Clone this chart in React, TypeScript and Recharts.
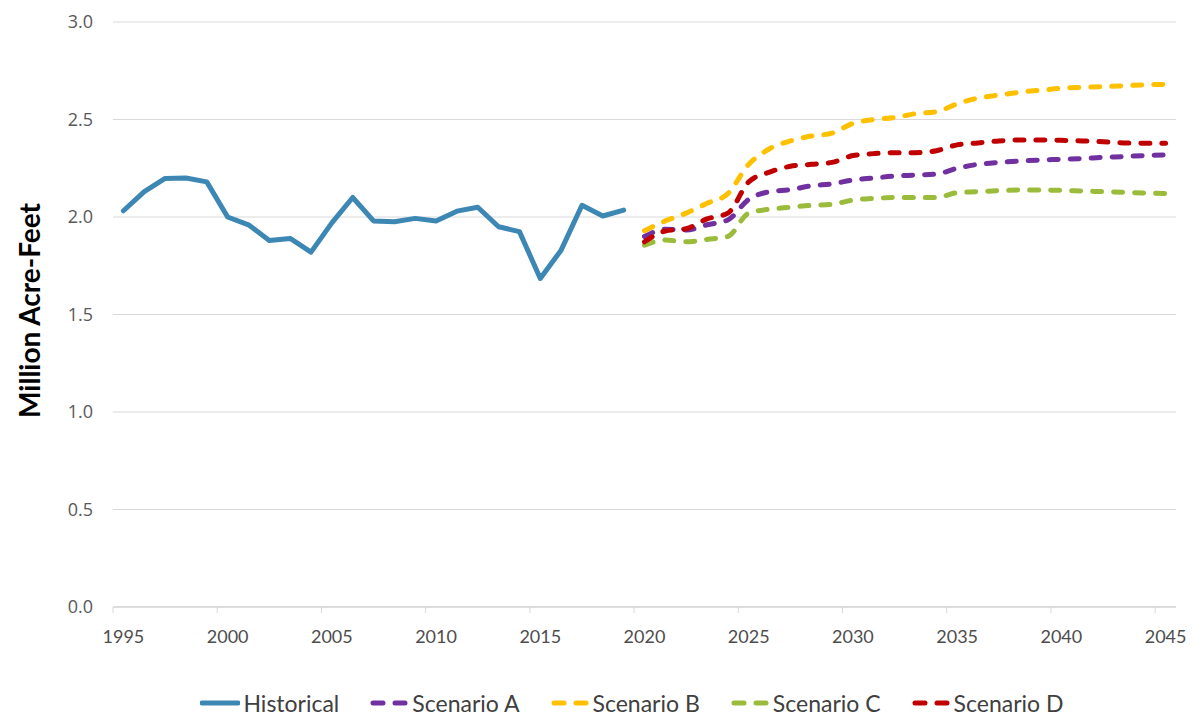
import React from 'react';
import { LineChart, Line, XAxis, YAxis, CartesianGrid, Legend } from 'recharts';

const histYears = [1995, 1996, 1997, 1998, 1999, 2000, 2001, 2002, 2003, 2004, 2005, 2006, 2007, 2008, 2009, 2010, 2011, 2012, 2013, 2014, 2015, 2016, 2017, 2018, 2019];
const historical = [2.032, 2.13, 2.198, 2.2, 2.18, 2.0, 1.96, 1.88, 1.89, 1.82, 1.97, 2.1, 1.98, 1.976, 1.993, 1.98, 2.03, 2.05, 1.95, 1.925, 1.685, 1.83, 2.06, 2.005, 2.035];

const projYears = [2020, 2021, 2022, 2023, 2024, 2025, 2026, 2027, 2028, 2029, 2030, 2031, 2032, 2033, 2034, 2035, 2036, 2037, 2038, 2039, 2040, 2041, 2042, 2043, 2044, 2045];
const scenarioA = [1.9, 1.937, 1.933, 1.96, 1.985, 2.09, 2.13, 2.14, 2.16, 2.17, 2.19, 2.2, 2.21, 2.215, 2.22, 2.25, 2.27, 2.28, 2.287, 2.292, 2.296, 2.3, 2.306, 2.31, 2.315, 2.318];
const scenarioB = [1.93, 1.98, 2.02, 2.07, 2.12, 2.27, 2.35, 2.39, 2.415, 2.43, 2.48, 2.5, 2.51, 2.53, 2.54, 2.58, 2.61, 2.625, 2.64, 2.65, 2.66, 2.665, 2.668, 2.673, 2.678, 2.68];
const scenarioC = [1.856, 1.882, 1.873, 1.885, 1.9, 2.02, 2.04, 2.05, 2.06, 2.065, 2.087, 2.095, 2.1, 2.1, 2.1, 2.125, 2.13, 2.135, 2.138, 2.138, 2.137, 2.133, 2.13, 2.127, 2.123, 2.12];
const scenarioD = [1.873, 1.928, 1.94, 1.99, 2.02, 2.18, 2.23, 2.26, 2.27, 2.28, 2.315, 2.325, 2.33, 2.33, 2.34, 2.37, 2.38, 2.39, 2.395, 2.395, 2.393, 2.39, 2.386, 2.38, 2.378, 2.378];

const xTickYears = [1995, 2000, 2005, 2010, 2015, 2020, 2025, 2030, 2035, 2040, 2045];
const yTicks = [0, 0.5, 1.0, 1.5, 2.0, 2.5, 3.0];

// Category axis: each year occupies one band; points sit at the band centre.
const FIRST_YEAR = 1995;
const LAST_YEAR = 2045;
const BAND_CENTRE = 0.5;

const CHART_W = 1194;
const CHART_H = 717;
const MARGIN = { top: 22, right: 18, left: 0, bottom: 80 };
const Y_AXIS_W = 113;
const PLOT_W = CHART_W - MARGIN.left - MARGIN.right - Y_AXIS_W;
const HALF_BAND = PLOT_W / (LAST_YEAR - FIRST_YEAR + 1) / 2;

const series = [
  { key: 'historical', name: 'Historical', color: '#3C87B4', dashed: false },
  { key: 'scenarioA', name: 'Scenario A', color: '#7030A0', dashed: true },
  { key: 'scenarioB', name: 'Scenario B', color: '#FFC000', dashed: true },
  { key: 'scenarioC', name: 'Scenario C', color: '#9BBB3A', dashed: true },
  { key: 'scenarioD', name: 'Scenario D', color: '#C00000', dashed: true },
];

type Row = { x: number; [k: string]: number | undefined };
const data: Row[] = [
  ...histYears.map((y, i) => ({ x: y + BAND_CENTRE, historical: historical[i] })),
  ...projYears.map((y, i) => ({
    x: y + BAND_CENTRE,
    scenarioA: scenarioA[i],
    scenarioB: scenarioB[i],
    scenarioC: scenarioC[i],
    scenarioD: scenarioD[i],
  })),
];

const XTick = (props: any) => {
  const { x, y, payload } = props;
  return (
    <g>
      <line x1={x} y1={y - 8} x2={x} y2={y - 2} stroke="#D9D9D9" strokeWidth={1} />
      <text
        x={x + HALF_BAND}
        y={y + 15}
        dy="0.71em"
        textAnchor="middle"
        fill="#4D4D4D"
        fontFamily="Lato, 'Open Sans', sans-serif"
        fontSize={18}
      >
        {payload.value}
      </text>
    </g>
  );
};

const YTick = (props: any) => {
  const { y, payload } = props;
  return (
    <text
      x={Y_AXIS_W - 20}
      y={y}
      dy="0.355em"
      textAnchor="end"
      fill="#595959"
      fontFamily="'Open Sans', sans-serif"
      fontSize={18}
    >
      {Number(payload.value).toFixed(1)}
    </text>
  );
};

const YLabel = (props: any) => {
  const vb = props.viewBox || { x: 0, y: 0, width: 0, height: 0 };
  const cx = vb.x + 29;
  const cy = vb.y + vb.height / 2 - 4;
  return (
    <text
      x={cx}
      y={cy}
      transform={`rotate(-90 ${cx} ${cy})`}
      textAnchor="middle"
      dominantBaseline="central"
      fill="#000000"
      fontFamily="Lato, 'Open Sans', sans-serif"
      fontWeight={700}
      fontSize={28}
    >
      Million Acre-Feet
    </text>
  );
};

const renderLegend = (props: any) => {
  const payload = props.payload || [];
  return (
    <div
      style={{
        display: 'flex',
        justifyContent: 'center',
        alignItems: 'center',
        gap: 30,
        fontFamily: "Lato, 'Open Sans', sans-serif",
        fontSize: 23,
        color: '#404040',
      }}
    >
      {payload.map((entry: any) => {
        const cfg = series.find((s) => s.name === entry.value);
        const dashed = cfg ? cfg.dashed : false;
        return (
          <div key={entry.value} style={{ display: 'flex', alignItems: 'center' }}>
            <svg width={40} height={10} style={{ display: 'block' }}>
              <line
                x1={dashed ? 4 : 2}
                y1={5}
                x2={dashed ? 36 : 38}
                y2={5}
                stroke={entry.color}
                strokeWidth={5}
                strokeLinecap="round"
                strokeDasharray={dashed ? '10 12' : undefined}
              />
            </svg>
            <span style={{ marginLeft: 3 }}>{entry.value}</span>
          </div>
        );
      })}
    </div>
  );
};

export default function App() {
  return (
    <div style={{ position: 'absolute', left: 0, top: 0, background: '#ffffff' }}>
      <LineChart width={CHART_W} height={CHART_H} data={data} margin={MARGIN}>
        <CartesianGrid vertical={false} stroke="#D9D9D9" strokeWidth={1} />
        <XAxis
          dataKey="x"
          type="number"
          domain={[FIRST_YEAR, LAST_YEAR + 1]}
          ticks={xTickYears}
          interval={0}
          height={30}
          axisLine={{ stroke: '#D9D9D9', strokeWidth: 1.5 }}
          tickLine={false}
          tick={<XTick />}
        />
        <YAxis
          type="number"
          domain={[0, 3]}
          ticks={yTicks}
          interval={0}
          width={Y_AXIS_W}
          axisLine={false}
          tickLine={false}
          tick={<YTick />}
          label={<YLabel />}
        />
        <Legend
          verticalAlign="middle"
          align="center"
          content={renderLegend}
          wrapperStyle={{ top: 689, left: 70, width: CHART_W - 70 }}
        />
        {series.map((s) => (
          <Line
            key={s.key}
            dataKey={s.key}
            name={s.name}
            type={s.dashed ? 'monotone' : 'linear'}
            stroke={s.color}
            strokeWidth={5}
            strokeLinecap="round"
            strokeLinejoin="round"
            strokeDasharray={s.dashed ? '9 12' : undefined}
            dot={false}
            activeDot={false}
            legendType="line"
            isAnimationActive={false}
          />
        ))}
      </LineChart>
    </div>
  );
}
